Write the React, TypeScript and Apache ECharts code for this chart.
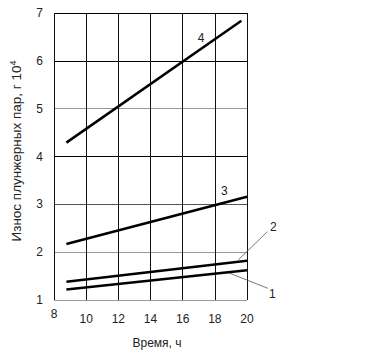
import React, { useEffect, useRef } from "react";
import * as echarts from "echarts";

const xTicks = [8, 10, 12, 14, 16, 18, 20];
const yTicks = [1, 2, 3, 4, 5, 6, 7];
const seriesNames = ["1", "2", "3", "4"];
const x1 = [8.77, 20];
const y1 = [1.22, 1.62];
const x2 = [8.77, 20];
const y2 = [1.38, 1.82];
const x3 = [8.77, 20];
const y3 = [2.17, 3.16];
const x4 = [8.77, 19.65];
const y4 = [4.29, 6.84];
// label anchor positions (data coords) and leader lines
const labelPos = [
  [21.58, 1.13],
  [21.64, 2.53],
  [18.59, 3.28],
  [17.15, 6.47],
];
const leader1 = [[18.92, 1.56], [21.29, 1.245]];
const leader2 = [[19.46, 1.84], [21.27, 2.43]];

const FONT = "Arial, 'Liberation Sans', sans-serif";
const hColors = ["#999", "#999", "#555", "#000", "#999", "#000", "#000"];

export default function App() {
  const ref = useRef<HTMLDivElement>(null);
  useEffect(() => {
    const chart = echarts.init(ref.current!, undefined, { renderer: "svg" });
    const mk = (xs: number[], ys: number[]) => xs.map((x, i) => [x, ys[i]]);
    const data = [mk(x1, y1), mk(x2, y2), mk(x3, y3), mk(x4, y4)];
    chart.setOption({
      animation: false,
      grid: { left: 54, right: 120, top: 13, bottom: 63 },
      xAxis: {
        type: "value",
        min: xTicks[0],
        max: xTicks[xTicks.length - 1],
        interval: 2,
        axisLine: { show: false },
        axisTick: { show: false },
        splitLine: { show: true, lineStyle: { color: "#111", width: 1 } },
        axisLabel: {
          margin: 8,
          fontSize: 12,
          fontFamily: FONT,
          color: "#222",
          formatter: (v: number) => (v === xTicks[0] ? `{f|${v}}` : `{n|${v}}`),
          rich: {
            f: { fontSize: 12, fontFamily: FONT, color: "#222" },
            n: { fontSize: 12, fontFamily: FONT, color: "#222", padding: [5, 0, 0, 0] },
          },
        },
      },
      yAxis: {
        type: "value",
        min: yTicks[0],
        max: yTicks[yTicks.length - 1],
        interval: 1,
        axisLine: { show: false },
        axisTick: { show: false },
        splitLine: { show: true, lineStyle: { color: hColors, width: 1 } },
        axisLabel: { margin: 11, fontSize: 12, fontFamily: FONT, color: "#222" },
      },
      series: data.map((d, i) => ({
        name: seriesNames[i],
        type: "line",
        data: d,
        symbol: "none",
        lineStyle: { color: "#000", width: 2.5 },
      })),
    });
    const px = (p: number[]) => chart.convertToPixel({ gridIndex: 0 }, p) as number[];
    const graphic: any[] = [];
    labelPos.forEach((p, i) => {
      const q = px(p);
      graphic.push({
        type: "text",
        x: q[0],
        y: q[1],
        style: {
          text: seriesNames[i],
          font: `12px ${FONT}`,
          fill: "#222",
          align: "center",
          verticalAlign: "middle",
        },
      });
    });
    [leader1, leader2].forEach((l) => {
      const a = px(l[0]);
      const b = px(l[1]);
      graphic.push({
        type: "line",
        shape: { x1: a[0], y1: a[1], x2: b[0], y2: b[1] },
        style: { stroke: "#555", lineWidth: 0.8 },
      });
    });
    graphic.push({
      type: "text",
      x: 157,
      y: 343,
      style: {
        text: "Время, ч",
        font: `12px ${FONT}`,
        fill: "#222",
        align: "center",
        verticalAlign: "middle",
      },
    });
    graphic.push({
      type: "text",
      x: 16,
      y: 151,
      rotation: Math.PI / 2,
      style: {
        text: "Износ плунжерных пар, г 10{s|4}",
        font: `13.5px ${FONT}`,
        fill: "#222",
        align: "center",
        verticalAlign: "middle",
        rich: {
          s: { fontSize: 9, fontFamily: FONT, fill: "#222", verticalAlign: "top", padding: [0, 0, 7, 0] },
        },
      },
    });
    chart.setOption({ graphic });
    return () => chart.dispose();
  }, []);
  return (
    <div
      ref={ref}
      style={{ position: "fixed", left: 0, top: 0, width: 367, height: 363, background: "#fff" }}
    />
  );
}
